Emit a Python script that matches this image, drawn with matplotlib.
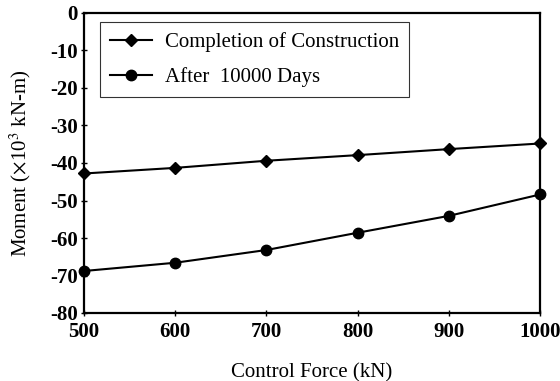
import matplotlib
matplotlib.use("Agg")
import matplotlib.pyplot as plt

force = [500, 600, 700, 800, 900, 1000]
completion = [-42.8, -41.3, -39.4, -37.9, -36.3, -34.8]
after_10000 = [-68.8, -66.6, -63.2, -58.6, -54.1, -48.4]
yticks = [0, -10, -20, -30, -40, -50, -60, -70, -80]
xticks = [500, 600, 700, 800, 900, 1000]

plt.rcParams['font.family'] = ['Liberation Serif', 'DejaVu Serif']
plt.rcParams['mathtext.fontset'] = 'stix'

fig = plt.figure(figsize=(5.6, 3.81), dpi=100)
ax = fig.add_axes([84/560, 1-313/381, (540-84)/560, (313-13)/381])

ax.plot(force, completion, color='black', lw=1.5, marker='D', ms=6,
        label='Completion of Construction', clip_on=False, zorder=3)
ax.plot(force, after_10000, color='black', lw=1.5, marker='o', ms=7.5,
        label='After  10000 Days', clip_on=False, zorder=3)

ax.set_xlim(500, 1000)
ax.set_ylim(-80, 0)
ax.set_xticks(xticks)
ax.set_yticks(yticks)
ax.set_yticklabels([str(v) for v in yticks])
for s in ax.spines.values():
    s.set_linewidth(1.6)
ax.tick_params(direction='inout', length=5, width=1, labelsize=15)
ax.tick_params(axis='x', pad=4)
ax.tick_params(axis='y', pad=2)
for lab in ax.get_xticklabels() + ax.get_yticklabels():
    lab.set_fontweight('bold')

ax.set_xlabel('Control Force (kN)', fontsize=15, labelpad=15)
ax.set_ylabel(r'Moment ($\times$10$^3$ kN-m)', fontsize=15, labelpad=12)

leg = ax.legend(loc='upper left', bbox_to_anchor=(16/456, 1-9/300), fontsize=15,
                frameon=True, fancybox=False, edgecolor='black', handlelength=2.0,
                handletextpad=0.6, borderpad=0.5, labelspacing=0.7, borderaxespad=0)
leg.get_frame().set_linewidth(0.8)

fig.savefig('out.png', dpi=100)
